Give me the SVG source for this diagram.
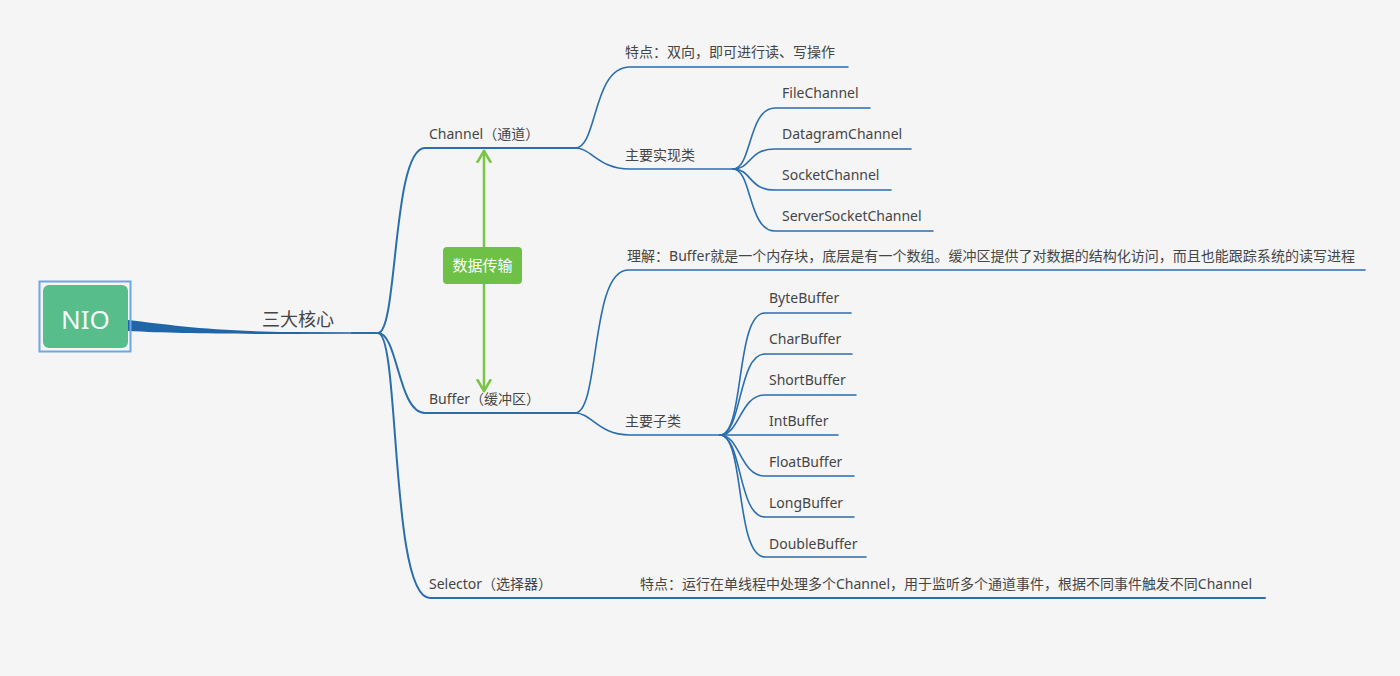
<svg xmlns="http://www.w3.org/2000/svg" width="1400" height="676" viewBox="0 0 1400 676">
<style>
.t{font-family:"Noto Sans","Noto Sans CJK SC",sans-serif;font-size:14px;fill:#454545}
.c{fill:none;stroke:#2a6ead;stroke-width:1.6;stroke-linecap:round}
.c2{fill:none;stroke:#2a6ead;stroke-width:2;stroke-linecap:round}
.ga{fill:none;stroke:#79c545;stroke-width:2.5;stroke-linecap:round;stroke-linejoin:round}
</style>
<defs>
<marker id="ah" viewBox="0 0 14 16" refX="12" refY="8" markerWidth="14" markerHeight="16" markerUnits="userSpaceOnUse" orient="auto-start-reverse">
<path d="M1,1.5 L12,8 L1,14.5" fill="none" stroke="#79c545" stroke-width="2.5" stroke-linecap="round" stroke-linejoin="round"/>
</marker>
</defs>
<rect width="1400" height="676" fill="#f5f5f5"/>
<g id="connectors">
<path d="M128,320 C170,325 210,331 290,332 L353,332.2 L353,333.8 L290,334 C210,334 170,333 128,331 Z" fill="#1f65a8"/>
<path class="c2" d="M352,333 L378,333"/>
<path class="c2" d="M378,333 C398,333 392,148 425,148 L575,148"/>
<path class="c2" d="M378,333 C398,333 398,413 425,413 L575,413"/>
<path class="c2" d="M378,333 C400,333 390,598 430,598 L1265,598"/>
<path class="c" d="M575,148 C598,148 592,67 630,67 L848,67"/>
<path class="c" d="M575,148 C592,148 598,169 630,169 L733,169"/>
<path class="c" d="M733,169 C752,169 748,108 775,108 L870,108"/>
<path class="c" d="M733,169 C752,169 748,149 775,149 L911,149"/>
<path class="c" d="M733,169 C752,169 748,190 775,190 L891,190"/>
<path class="c" d="M733,169 C752,169 748,231 775,231 L933,231"/>
<path class="c" d="M575,413 C600,413 590,270 628,270 L1365,270"/>
<path class="c" d="M575,413 C592,413 598,435 630,435 L720,435"/>
<path class="c" d="M720,435 C745,435 735,313 765,313 L851,313"/>
<path class="c" d="M720,435 C742,435 738,354 765,354 L852,354"/>
<path class="c" d="M720,435 C740,435 740,395 765,395 L856,395"/>
<path class="c" d="M720,435 L838,435"/>
<path class="c" d="M720,435 C740,435 740,476 765,476 L854,476"/>
<path class="c" d="M720,435 C742,435 738,517 765,517 L854,517"/>
<path class="c" d="M720,435 C745,435 735,557 765,557 L866,557"/>
<path class="ga" d="M484,151 L484,247" marker-start="url(#ah)"/>
<path class="ga" d="M484,284 L484,391" marker-end="url(#ah)"/>
</g>
<g id="nio">
<rect x="39.5" y="281.5" width="91" height="70" fill="none" stroke="#6ea6e6" stroke-width="2"/>
<rect x="43" y="285" width="85" height="63" rx="6" fill="#57bd8b"/>
<text x="85.5" y="329" text-anchor="middle" style="font-family:'Noto Sans',sans-serif;font-size:26px;fill:#f4fbf6">NIO</text>
</g>
<g id="core"><text x="262" y="326" class="t" style="font-size:18px">三大核心</text></g>
<g id="channel"><text x="429" y="139" class="t">Channel（通道）</text></g>
<g id="buffer"><text x="429" y="404" class="t">Buffer（缓冲区）</text></g>
<g id="selector"><text x="429" y="589" class="t">Selector（选择器）</text></g>
<g id="transfer">
<rect x="443" y="247" width="79" height="37" rx="4" fill="#6fc047"/>
<text x="482.5" y="271" text-anchor="middle" class="t" style="font-size:15px;fill:#ffffff">数据传输</text>
</g>
<g id="channel-feature"><text x="625" y="57" class="t">特点：双向，即可进行读、写操作</text></g>
<g id="channel-impl"><text x="625" y="160" class="t">主要实现类</text></g>
<g id="filechannel"><text x="782" y="98" class="t">FileChannel</text></g>
<g id="datagramchannel"><text x="782" y="139" class="t">DatagramChannel</text></g>
<g id="socketchannel"><text x="782" y="180" class="t">SocketChannel</text></g>
<g id="serversocketchannel"><text x="782" y="221" class="t">ServerSocketChannel</text></g>
<g id="buffer-understand"><text x="627" y="261" class="t" textLength="728" lengthAdjust="spacingAndGlyphs">理解：Buffer就是一个内存块，底层是有一个数组。缓冲区提供了对数据的结构化访问，而且也能跟踪系统的读写进程</text></g>
<g id="buffer-sub"><text x="625" y="426" class="t">主要子类</text></g>
<g id="bytebuffer"><text x="769" y="303" class="t">ByteBuffer</text></g>
<g id="charbuffer"><text x="769" y="344" class="t">CharBuffer</text></g>
<g id="shortbuffer"><text x="769" y="385" class="t">ShortBuffer</text></g>
<g id="intbuffer"><text x="769" y="426" class="t">IntBuffer</text></g>
<g id="floatbuffer"><text x="769" y="467" class="t">FloatBuffer</text></g>
<g id="longbuffer"><text x="769" y="508" class="t">LongBuffer</text></g>
<g id="doublebuffer"><text x="769" y="549" class="t">DoubleBuffer</text></g>
<g id="selector-feature"><text x="640" y="589" class="t" textLength="612" lengthAdjust="spacingAndGlyphs">特点：运行在单线程中处理多个Channel，用于监听多个通道事件，根据不同事件触发不同Channel</text></g>
</svg>
